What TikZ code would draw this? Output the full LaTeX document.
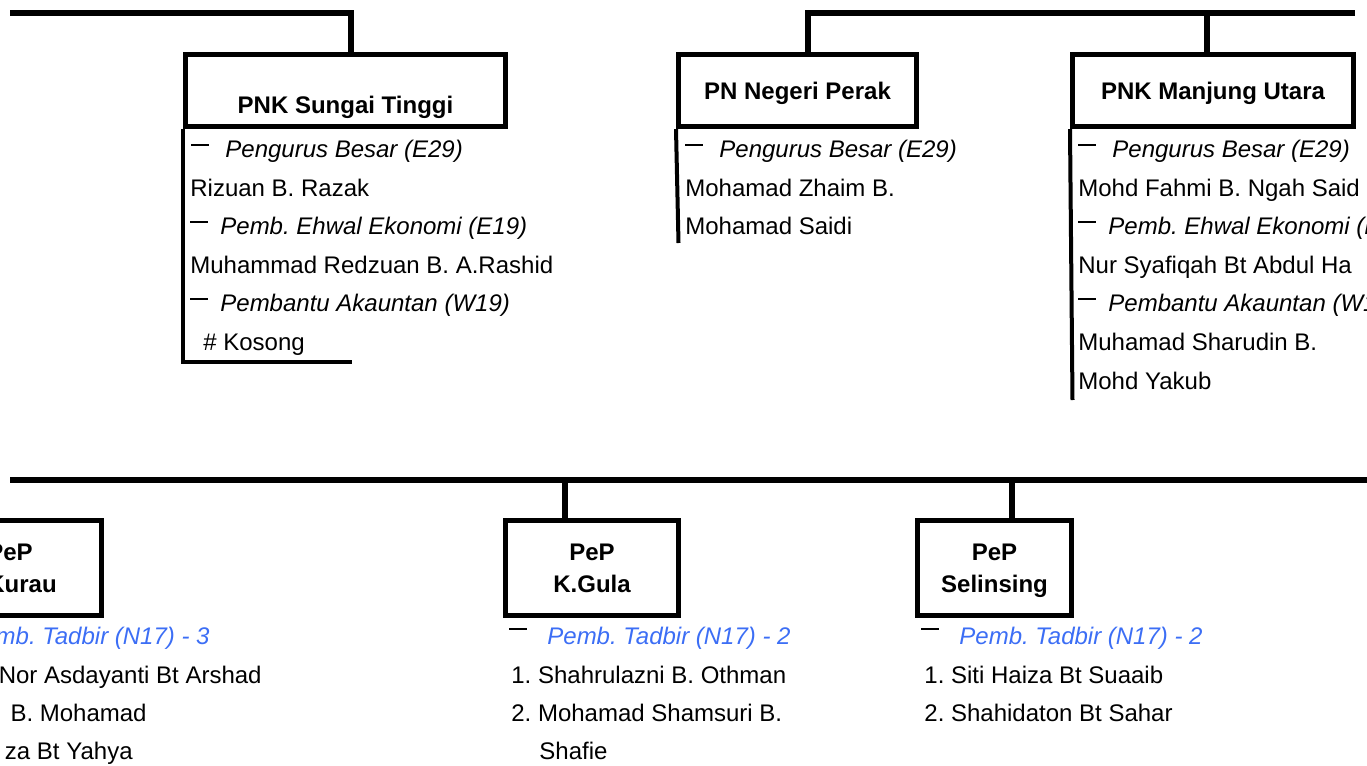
\documentclass[tikz,border=0pt]{standalone}
\usepackage{fontspec}
\setmainfont{Liberation Sans}
\definecolor{tadbir}{RGB}{60,110,245}
\newcommand\dmk[1][6pt]{\rule[#1]{9pt}{1pt}}
\frenchspacing
\begin{document}
\begin{tikzpicture}[x=0.5pt,y=-0.5pt,
  box/.style={draw, line width=2.5pt, inner sep=0pt, align=center, text depth=0pt,
    font=\fontsize{12pt}{16pt}\selectfont\bfseries},
  title/.style={inner sep=0pt, font=\fontsize{12pt}{14.4pt}\selectfont\bfseries},
  conn/.style={line width=3pt},
  bar/.style={line width=2pt},
  txt/.style={inner sep=0pt, anchor=base west, font=\fontsize{12pt}{14.4pt}\selectfont},
  role/.style={txt, font=\fontsize{12pt}{14.4pt}\selectfont\itshape},
  bluerole/.style={role, text=tadbir}]
\useasboundingbox (0,0) rectangle (1367,766);
\clip (0,0) rectangle (1367,766);

% ---------- top left: PNK Sungai Tinggi ----------
\node[box, minimum width=160pt, minimum height=36pt] (st) at (345.5,90.5) {};
\node[title, anchor=base] (stT) at (345.5,113.6) {PNK Sungai Tinggi};
\coordinate (h1s) at (10,13);
\coordinate (stj) at (351,13);
\draw[conn] (h1s) -- (stj) -- (stj |- st.north);
\coordinate (stE) at (352,362);
\draw[bar] (st.south west) |- (stE);
\node[role] (st1) at (191,157.5) {\dmk\hspace{8pt}Pengurus Besar (E29)};
\node[txt]  (st2) at (190,196.1) {Rizuan B. Razak};
\node[role] (st3) at (190,234.7) {\dmk\hspace{6pt}Pemb. Ehwal Ekonomi (E19)};
\node[txt]  (st4) at (190,273.3) {Muhammad Redzuan B. A.Rashid};
\node[role] (st5) at (190,311.9) {\dmk\hspace{6pt}Pembantu Akauntan (W19)};
\node[txt]  (st6) at (203,350.5) {\# Kosong};

% ---------- top middle: PN Negeri Perak ----------
\node[box, minimum width=119pt, minimum height=36pt] (pn) at (797.5,90.5) {PN Negeri Perak};
\node[box, minimum width=140.5pt, minimum height=36pt] (mu) at (1213,90.5) {PNK Manjung Utara};
\coordinate (pnj) at (808,13);
\coordinate (muj) at (1207,13);
\coordinate (hR) at (1355,13);
\draw[conn] (pnj |- pn.north) -- (pnj) -- (hR);
\draw[conn] (muj) -- (muj |- mu.north);
\coordinate (pnE) at (678.5,243);
\draw[bar] (pn.south west) -- (pnE);
\node[role] (pn1) at (685,157.5) {\dmk\hspace{8pt}Pengurus Besar (E29)};
\node[txt]  (pn2) at (685,196.1) {Mohamad Zhaim B.};
\node[txt]  (pn3) at (685,234.7) {Mohamad Saidi};

% ---------- top right: PNK Manjung Utara ----------
\coordinate (muE) at (1072.5,400);
\draw[bar] (mu.south west) -- (muE);
\node[role] (mu1) at (1078,157.5) {\dmk\hspace{8pt}Pengurus Besar (E29)};
\node[txt]  (mu2) at (1078,196.1) {Mohd Fahmi B. Ngah Said};
\node[role] (mu3) at (1078,234.7) {\dmk\hspace{6pt}Pemb. Ehwal Ekonomi (E19)};
\node[txt]  (mu4) at (1078,273.3) {Nur Syafiqah Bt Abdul Ha};
\node[role] (mu5) at (1078,311.9) {\dmk\hspace{6pt}Pembantu Akauntan (W19)};
\node[txt]  (mu6) at (1078,350.5) {Muhamad Sharudin B.};
\node[txt]  (mu7) at (1078,389.1) {Mohd Yakub};

% ---------- bottom row ----------
\coordinate (b0) at (10,480);
\coordinate (b1) at (1367,480);
\draw[conn] (b0) -- (b1);

\node[box, minimum width=91.5pt, minimum height=47.5pt] (kk) at (10,568) {PeP\\K.Kurau};
\node[bluerole, anchor=base east] (kk1) at (210,644.6) {Pemb. Tadbir (N17) - 3};
\node[txt, anchor=base east] (kk2) at (262,683.6) {Nor Asdayanti Bt Arshad};
\node[txt, anchor=base east] (kk3) at (147,721.6) {B. Mohamad};
\node[txt, anchor=base east] (kk4) at (133,759.6) {za Bt Yahya};

\node[box, minimum width=86.5pt, minimum height=47.5pt] (kg) at (592,568) {PeP\\K.Gula};
\coordinate (kgj) at (565,480);
\draw[conn] (kgj) -- (kgj |- kg.north);
\node[bluerole] (kg1) at (509,644.6) {\textcolor{black}{\dmk[7.3pt]}\hspace{10pt}Pemb. Tadbir (N17) - 2};
\node[txt] (kg2) at (511,683.6) {1. Shahrulazni B. Othman};
\node[txt] (kg3) at (511,721.6) {2. Mohamad Shamsuri B.};
\node[txt] (kg4) at (539,759.6) {Shafie};

\node[box, minimum width=77pt, minimum height=47.5pt] (se) at (994.5,568) {PeP\\Selinsing};
\coordinate (sej) at (1012,480);
\draw[conn] (sej) -- (sej |- se.north);
\node[bluerole] (se1) at (921,644.6) {\textcolor{black}{\dmk[7.3pt]}\hspace{10pt}Pemb. Tadbir (N17) - 2};
\node[txt] (se2) at (924,683.6) {1. Siti Haiza Bt Suaaib};
\node[txt] (se3) at (924,721.6) {2. Shahidaton Bt Sahar};
\end{tikzpicture}
\end{document}
